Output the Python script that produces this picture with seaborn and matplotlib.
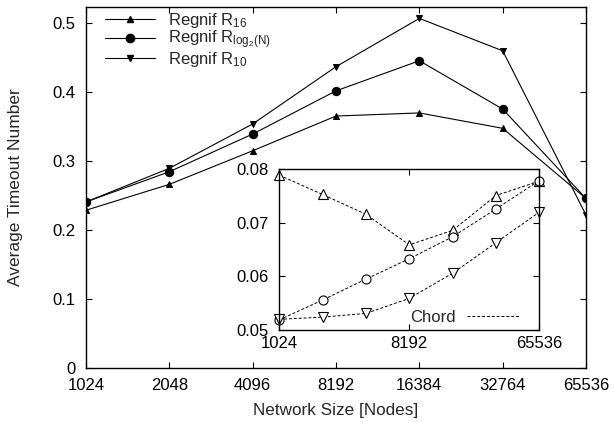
import matplotlib
matplotlib.use("Agg")
import matplotlib.pyplot as plt
import seaborn as sns
import pandas as pd
from matplotlib.lines import Line2D

# Network sizes (nodes)
sizes = [1024, 2048, 4096, 8192, 16384, 32768, 65536]
size_labels = ["1024", "2048", "4096", "8192", "16384", "32764", "65536"]

# Regnif timeouts (main panel)
regnif_r16 = [0.228, 0.2655, 0.3142, 0.3645, 0.369, 0.3467, 0.245]
regnif_rlog = [0.240, 0.2838, 0.3384, 0.401, 0.4446, 0.3746, 0.245]
regnif_r10 = [0.240, 0.2887, 0.353, 0.436, 0.506, 0.459, 0.221]

# Chord timeouts (inset)
chord_r16 = [0.0789, 0.0753, 0.0716, 0.0659, 0.0686, 0.0751, 0.0778]
chord_rlog = [0.0519, 0.0556, 0.0595, 0.0633, 0.0674, 0.0726, 0.0779]
chord_r10 = [0.0520, 0.0524, 0.0531, 0.0559, 0.0606, 0.0663, 0.0720]

main_yticks = [0, 0.1, 0.2, 0.3, 0.4, 0.5]
main_ylabels = ["0", "0.1", "0.2", "0.3", "0.4", "0.5"]
inset_xticks = [1024, 8192, 65536]
inset_yticks = [0.05, 0.06, 0.07, 0.08]
inset_ylabels = ["0.05", "0.06", "0.07", "0.08"]

sns.set_theme(style="ticks")
plt.rcParams["font.family"] = ["Liberation Sans", "DejaVu Sans"]
plt.rcParams["mathtext.fontset"] = "custom"
plt.rcParams["mathtext.rm"] = "Liberation Sans"
plt.rcParams["mathtext.it"] = "Liberation Sans"
plt.rcParams["mathtext.default"] = "regular"

fig = plt.figure(figsize=(6.13, 4.22), dpi=100)
ax = fig.add_axes([0.1403, 0.129, 0.8157, 0.8544])

main_series = [
    (regnif_r16, "^", 5.0, r"Regnif R$_{16}$"),
    (regnif_rlog, "o", 6.0, r"Regnif R$_{log_2(N)}$"),
    (regnif_r10, "v", 5.0, r"Regnif R$_{10}$"),
]
for vals, mk, ms, lab in main_series:
    df = pd.DataFrame({"size": sizes, "val": vals})
    sns.lineplot(data=df, x="size", y="val", ax=ax, color="black", lw=0.8,
                 marker=mk, markersize=ms, markeredgecolor="black",
                 markerfacecolor="black", label=lab)

ax.set_xscale("log", base=2)
ax.set_xlim(1024, 65536)
ax.set_ylim(0, 0.5225)
ax.set_xticks(sizes)
ax.set_xticklabels(size_labels)
ax.minorticks_off()
ax.set_yticks(main_yticks)
ax.set_yticklabels(main_ylabels)
ax.tick_params(direction="in", length=4, width=0.8, top=True, right=True,
               labelsize=12, colors="black")
ax.tick_params(axis="x", pad=7.5)
ax.tick_params(axis="y", pad=7.5)
for s in ax.spines.values():
    s.set_linewidth(1.0)
    s.set_color("black")
ax.set_xlabel("Network Size [Nodes]", fontsize=12.3)
ax.set_ylabel("Average Timeout Number", fontsize=12.5)
ax.xaxis.set_label_coords(0.5, -0.118)
ax.xaxis.label.set_va("center")
ax.yaxis.set_label_coords(-0.142, 0.5)
ax.yaxis.label.set_va("center")

handles = [Line2D([], [], color="black", lw=0.8, marker=mk, markersize=ms)
           for _, mk, ms, _ in main_series]
ax.legend(handles, [s[3] for s in main_series], loc="upper left",
          bbox_to_anchor=(0.038, 0.989), frameon=False, fontsize=12,
          handlelength=3.0, handletextpad=0.78, labelspacing=-0.08,
          borderaxespad=0, borderpad=0)

# Inset with Chord results
ins = fig.add_axes([0.4556, 0.218, 0.4241, 0.3808])
ins.set_facecolor("white")
inset_series = [(chord_r16, "^"), (chord_rlog, "o"), (chord_r10, "v")]
for vals, mk in inset_series:
    df = pd.DataFrame({"size": sizes, "val": vals})
    sns.lineplot(data=df, x="size", y="val", ax=ins, color="black", lw=0.7,
                 marker=mk, markersize=6.5, markeredgecolor="black",
                 markerfacecolor="white", markeredgewidth=0.8,
                 linestyle=(0, (3, 2)), legend=False, clip_on=False)
ins.set_xscale("log", base=2)
ins.set_xlim(1024, 65536)
ins.set_ylim(0.05, 0.08)
ins.set_xticks(inset_xticks)
ins.set_xticklabels([str(v) for v in inset_xticks])
ins.minorticks_off()
ins.set_yticks(inset_yticks)
ins.set_yticklabels(inset_ylabels)
ins.tick_params(direction="in", length=4, width=0.8, top=True, right=True,
                labelsize=12, colors="black")
ins.tick_params(axis="x", pad=4.5)
ins.tick_params(axis="y", pad=7.5)
for s in ins.spines.values():
    s.set_linewidth(1.0)
    s.set_color("black")
ins.set_xlabel("")
ins.set_ylabel("")
ins.legend([Line2D([], [], color="black", lw=0.7, linestyle=(0, (3, 2)))],
           ["Chord"], loc="lower right", frameon=False, fontsize=12,
           handlelength=3.1, handletextpad=0.7, borderaxespad=0, borderpad=0,
           markerfirst=False, bbox_to_anchor=(0.922, 0.03))

fig.savefig("out.png", dpi=100)
